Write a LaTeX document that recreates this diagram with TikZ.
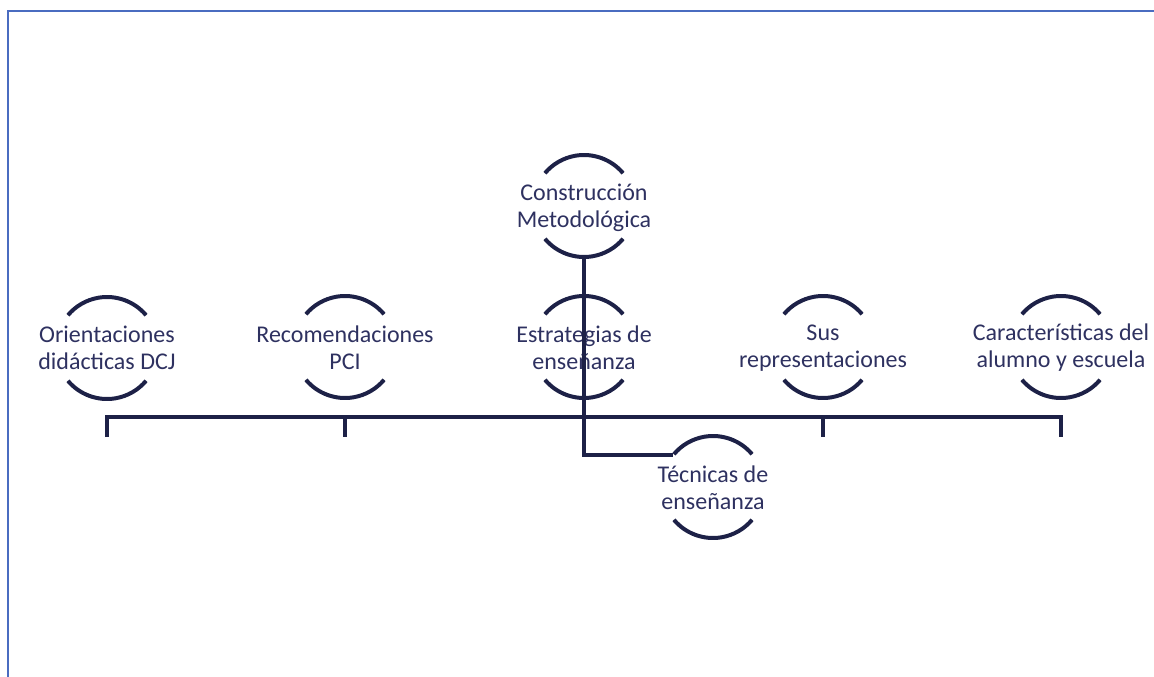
\documentclass[tikz,border=0pt]{standalone}
\usepackage{fontspec}
\setmainfont{Carlito}
\definecolor{navy}{HTML}{1D2147}
\definecolor{txt}{HTML}{2E3160}
\definecolor{framec}{HTML}{4A6CC0}
\begin{document}
\begin{tikzpicture}[x=1pt,y=-1pt,
  bubble/.style={inner sep=0pt,align=center,text=txt,
    font=\fontsize{24}{27}\selectfont},
  conn/.style={draw=navy,line width=4.5pt},
  arcs/.style={draw=navy,line width=4pt}]
\useasboundingbox (0,0) rectangle (1154,677);
\draw[framec,line width=2pt] (8,677) -- (8,11) -- (1154,11);
% nodes
\node[bubble] (con) at (584,208) {Construcción\\Metodológica};
\node[bubble] (o1) at (107,348) {Orientaciones\\didácticas DCJ};
\node[bubble] (o2) at (345,348) {Recomendaciones\\PCI};
\node[bubble] (o3) at (584,348) {Estrategias de\\enseñanza};
\node[bubble] (o4) at (823,348) {Sus\\representaciones};
\node[bubble] (o5) at (1061,348) {Características del\\alumno y escuela};
\node[bubble] (tec) at (713,488) {Técnicas de\\enseñanza};
% arcs
\foreach \n/\cy in {con/206,o1/348,o2/347,o3/347,o4/347,o5/347,tec/487}{
  \coordinate (c\n) at (\n.center |- 0,\cy);
  \draw[arcs] ([shift={(40:51pt)}]c\n) arc[start angle=40,end angle=140,radius=51pt];
  \draw[arcs] ([shift={(220:51pt)}]c\n) arc[start angle=220,end angle=320,radius=51pt];
}
% bus
\coordinate (bus) at (0,417);
\coordinate (tick) at (0,437);
\draw[conn,line join=miter] (o1 |- tick) -- (o1 |- bus) -- (o5 |- bus) -- (o5 |- tick);
\draw[conn] (o2 |- bus) -- (o2 |- tick);
\draw[conn] (o4 |- bus) -- (o4 |- tick);
% vertical to Técnicas
\coordinate (conb) at ([yshift=-51pt]ccon);
\coordinate (tecl) at ([shift={(141:51pt)}]ctec);
\draw[conn,line join=miter] (conb) |- (tecl);
\end{tikzpicture}
\end{document}
